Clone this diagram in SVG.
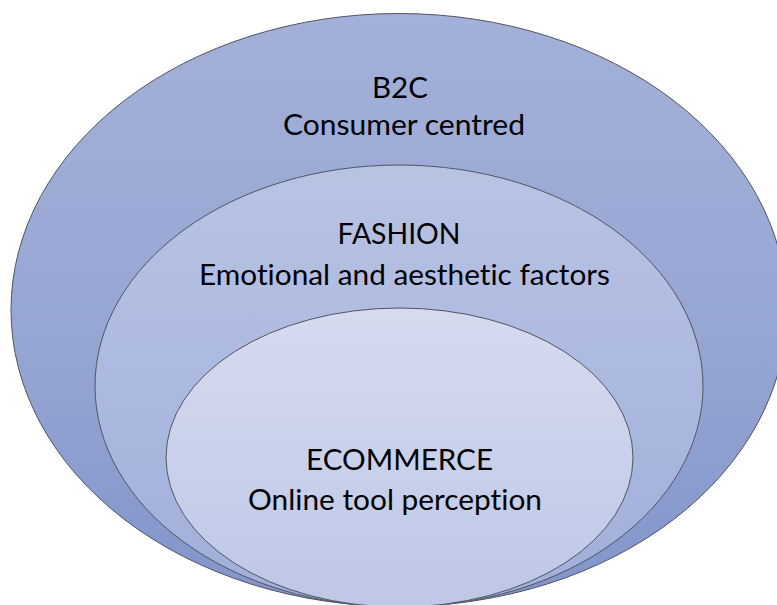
<svg xmlns="http://www.w3.org/2000/svg" width="777" height="605" viewBox="0 0 777 605">
  <defs>
    <linearGradient id="gOuter" x1="0" y1="0" x2="0" y2="1">
      <stop offset="0" stop-color="#A3B0D9"/>
      <stop offset="0.55" stop-color="#96A6D3"/>
      <stop offset="1" stop-color="#8194CA"/>
    </linearGradient>
    <linearGradient id="gMiddle" x1="0" y1="0" x2="0" y2="1">
      <stop offset="0" stop-color="#B8C3E4"/>
      <stop offset="1" stop-color="#A0AEDA"/>
    </linearGradient>
    <linearGradient id="gInner" x1="0" y1="0" x2="0" y2="1">
      <stop offset="0" stop-color="#D5DBEF"/>
      <stop offset="1" stop-color="#BDC7E6"/>
    </linearGradient>
  </defs>
  <style>
    .ring { stroke: #505560; stroke-width: 1; }
    .label { font-family: "Lato", "Open Sans", "Liberation Sans", sans-serif; font-size: 29px; fill: #000000;
             font-variant-ligatures: none; font-feature-settings: "liga" 0, "clig" 0; }
  </style>

  <rect x="0" y="0" width="777" height="605" fill="#FFFFFF"/>

  <!-- outer ring: B2C -->
  <g id="b2c">
    <ellipse class="ring" cx="399" cy="310" rx="388" ry="296.5" fill="url(#gOuter)"/>
    <text class="label" x="372" y="98" textLength="56" lengthAdjust="spacingAndGlyphs">B2C</text>
    <text class="label" x="283" y="135" textLength="242" lengthAdjust="spacingAndGlyphs">Consumer centred</text>
  </g>

  <!-- middle ring: FASHION -->
  <g id="fashion">
    <ellipse class="ring" cx="399" cy="386" rx="304" ry="221" fill="url(#gMiddle)"/>
    <text class="label" x="337.5" y="244" textLength="123" lengthAdjust="spacingAndGlyphs">FASHION</text>
    <text class="label" x="199" y="285" textLength="411" lengthAdjust="spacingAndGlyphs">Emotional and aesthetic factors</text>
  </g>

  <!-- inner ring: ECOMMERCE -->
  <g id="ecommerce">
    <ellipse class="ring" cx="399.5" cy="457.5" rx="233.5" ry="149.5" fill="url(#gInner)"/>
    <text class="label" x="306" y="469.5" textLength="187" lengthAdjust="spacingAndGlyphs">ECOMMERCE</text>
    <text class="label" x="248" y="510" textLength="294" lengthAdjust="spacingAndGlyphs">Online tool perception</text>
  </g>

  <g id="connectors"/>
</svg>
